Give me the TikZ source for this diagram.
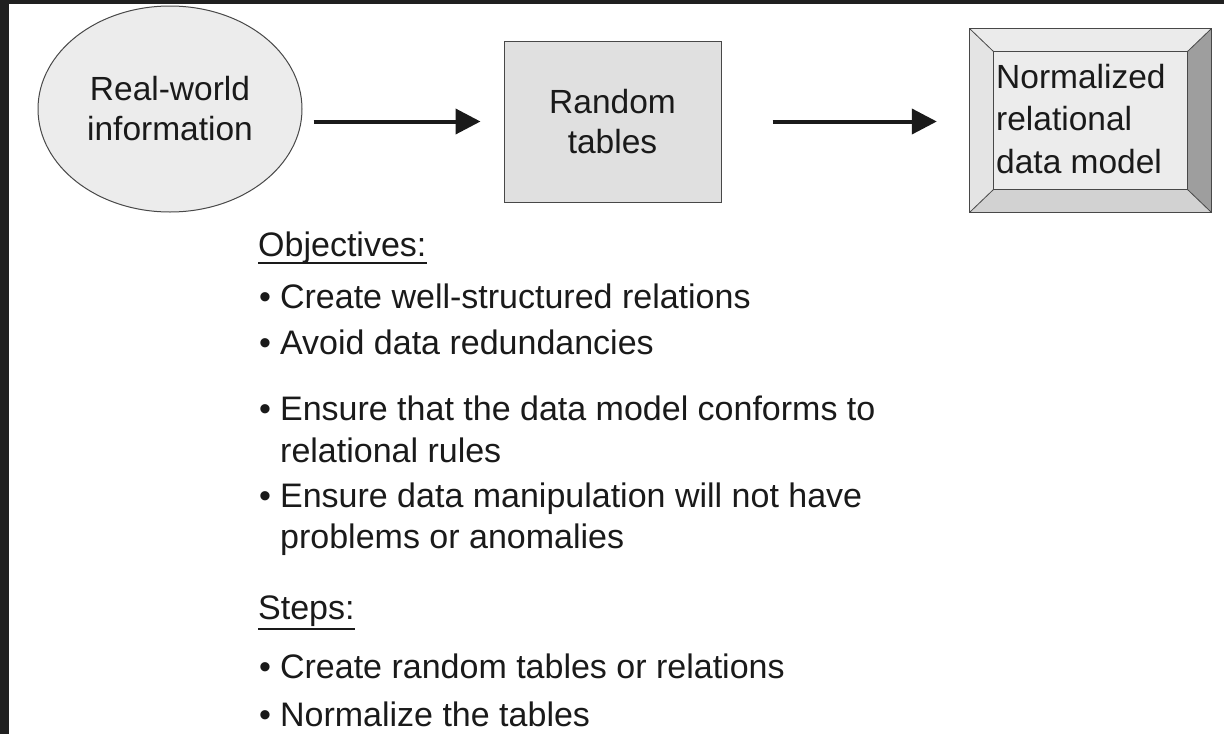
\documentclass[tikz,border=0pt]{standalone}
\usepackage{fontspec}
\setmainfont{Liberation Sans}
\usetikzlibrary{arrows.meta,shapes.geometric,calc}
\definecolor{frame}{HTML}{202020}
\definecolor{ink}{HTML}{1A1A1A}
\definecolor{ellfill}{HTML}{ECECEC}
\definecolor{boxfill}{HTML}{E0E0E0}
\definecolor{bevtop}{HTML}{EBEBEB}
\definecolor{bevleft}{HTML}{E4E4E4}
\definecolor{bevbot}{HTML}{D2D2D2}
\definecolor{bevright}{HTML}{9E9E9E}
\definecolor{bevin}{HTML}{ECECEC}
\tikzset{
  toplabel/.style={font=\fontsize{33.5}{40}\selectfont, text=ink, align=center, inner sep=0pt},
  bodytext/.style={font=\fontsize{34}{40}\selectfont, text=ink, anchor=base west, inner sep=0pt},
  flowarrow/.style={line width=4pt, draw=ink, -{Triangle[length=25pt,width=25pt]}},
  shapeline/.style={draw=ink!80, line width=1pt},
  headline/.style={draw=ink, line width=1.6pt},
}
\begin{document}
\begin{tikzpicture}[x=1pt,y=-1pt]
\useasboundingbox (0,0) rectangle (1224,734);
\fill[white] (0,0) rectangle (1224,734);
\fill[frame] (0,0) rectangle (9,734);
\fill[frame] (0,0) rectangle (1224,4);

% Real-world information
\node[ellipse, shapeline, fill=ellfill, minimum width=264pt, minimum height=206pt, toplabel] (real) at (170,109) {Real-world\\information};

% Random tables
\node[rectangle, shapeline, fill=boxfill, minimum width=217pt, minimum height=161pt, toplabel] (rt) at (612.5,121.5) {Random\\tables};

% Normalized relational data model (bevelled box)
\node[rectangle, minimum width=241pt, minimum height=183pt, inner sep=0pt] (nm) at (1090.5,120.5) {};
\coordinate (inw) at ($(nm.north west)+(24,23)$);
\coordinate (ine) at ($(nm.north east)+(-24,23)$);
\coordinate (isw) at ($(nm.south west)+(24,-23)$);
\coordinate (ise) at ($(nm.south east)+(-24,-23)$);
\fill[bevtop] (nm.north west) -- (nm.north east) -- (ine) -- (inw) -- cycle;
\fill[bevleft] (nm.north west) -- (inw) -- (isw) -- (nm.south west) -- cycle;
\fill[bevbot] (nm.south west) -- (isw) -- (ise) -- (nm.south east) -- cycle;
\fill[bevright] (nm.north east) -- (nm.south east) -- (ise) -- (ine) -- cycle;
\fill[bevin] (inw) rectangle (ise);
\draw[shapeline, line width=0.8pt] (nm.north west) -- (inw) (nm.north east) -- (ine) (nm.south west) -- (isw) (nm.south east) -- (ise);
\draw[shapeline, line width=1.2pt] (inw) rectangle (ise);
\draw[shapeline, line width=1.2pt] (nm.north west) rectangle (nm.south east);
\node[toplabel, font=\fontsize{33.5}{42.5}\selectfont, align=left, anchor=base west] (nmt) at (996,173) {Normalized\\relational\\data model};

% Arrows
\draw[flowarrow] ([xshift=11pt]real.east |- rt.west) -- ([xshift=-23pt]rt.west);
\draw[flowarrow] ([xshift=51pt]rt.east) -- ([xshift=-33pt]nm.west |- rt.east);

% Objectives
\node[bodytext] (obj) at (258,256) {Objectives:};
\draw[headline] ([yshift=-7pt]obj.base west) -- ([yshift=-7pt]obj.base east);
\node[bodytext] (o1) at (259,308) {•\hspace{9pt}Create well-structured relations};
\node[bodytext] (o2) at (259,354) {•\hspace{9pt}Avoid data redundancies};
\node[bodytext] (o3) at (259,420) {•\hspace{9pt}Ensure that the data model conforms to};
\node[bodytext] (o3b) at (280,462) {relational rules};
\node[bodytext] (o4) at (259,507) {•\hspace{9pt}Ensure data manipulation will not have};
\node[bodytext] (o4b) at (280,548) {problems or anomalies};

% Steps
\node[bodytext] (st) at (258,619) {Steps:};
\draw[headline] ([yshift=-10pt]st.base west) -- ([yshift=-10pt]st.base east);
\node[bodytext] (s1) at (259,678) {•\hspace{9pt}Create random tables or relations};
\node[bodytext] (s2) at (259,726) {•\hspace{9pt}Normalize the tables};
\end{tikzpicture}
\end{document}
